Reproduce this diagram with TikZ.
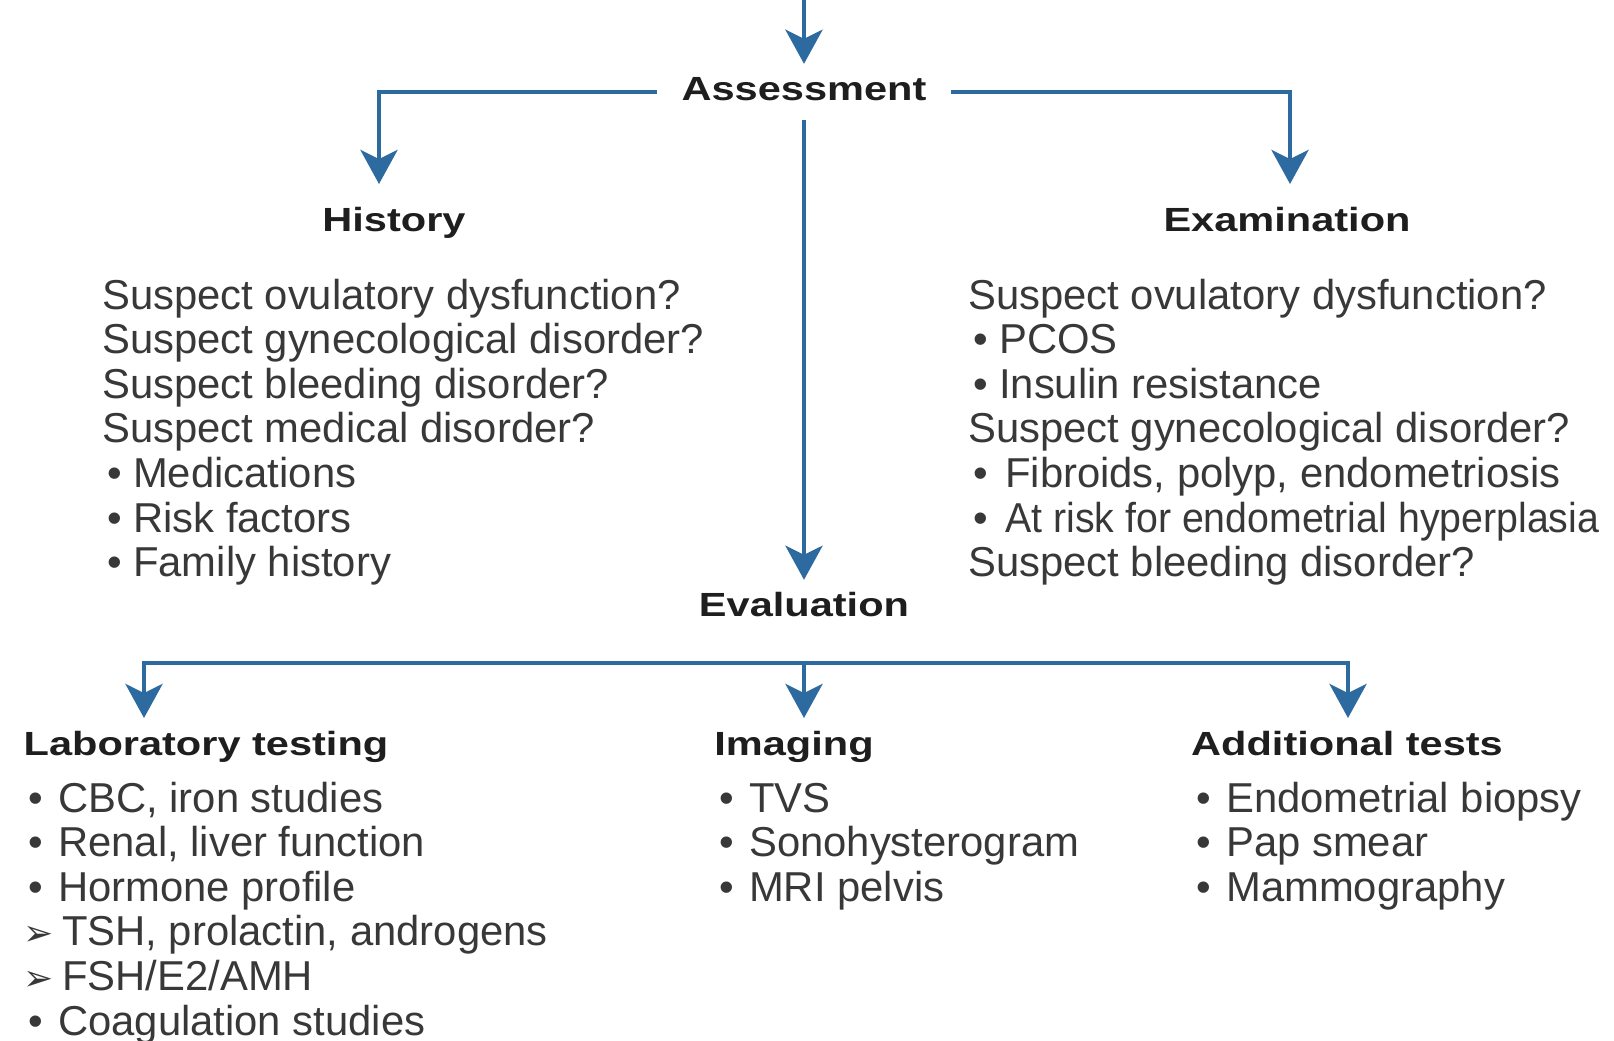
\documentclass[tikz,border=0pt]{standalone}
\usepackage{fontspec}
\setmainfont{Liberation Sans}
\newfontfamily\headfont{Liberation Sans}[FakeStretch=1.24]
\newfontfamily\dingfont{DejaVu Sans}
\usepackage{graphicx}
\usetikzlibrary{arrows.meta}
\definecolor{flowblue}{HTML}{2D6AA0}
\definecolor{txtgray}{HTML}{383838}
\definecolor{headgray}{HTML}{1E1E1E}
\newcommand{\bul}[1]{\hspace*{5pt}\makebox[#1][l]{•}}
\newcommand{\arw}[1]{\makebox[#1][l]{\dingfont\fontsize{36}{36}\selectfont ➢}}

\begin{document}
\begin{tikzpicture}[
  x=1pt, y=-1pt,
  hd/.style={font=\headfont\bfseries\fontsize{33.5}{36}\selectfont, text=headgray, anchor=base,
    inner xsep=24pt, inner ysep=12pt, text height=24pt, text depth=8pt},
  txt/.style={font=\fontsize{41.8}{44.6}\selectfont, text=txtgray, anchor=base west, inner sep=0pt},
  arr/.style={-{Stealth[length=34pt, width=37pt, inset=9pt]}, line width=4.5pt, flowblue}
]
  \useasboundingbox (0,0) rectangle (1614,1041);

  \node[hd] (assess) at (804,100) {Assessment};
  \node[hd] (hist) at (394,231) {History};
  \node[hd] (exam) at (1287,231) {Examination};
  \node[hd] (eval) at (804,616) {Evaluation};
  \node[hd] (lab) at (206,755) {Laboratory testing};
  \node[hd] (img) at (794,755) {Imaging};
  \node[hd] (addl) at (1347,755) {Additional tests};

  \coordinate (topin) at (804,0);
  \coordinate (histtip) at (379,184);
  \coordinate (examtip) at (1290,184);
  \coordinate (busm) at (804,663);
  \coordinate (labtip) at (144,718);
  \coordinate (imgtip) at (804,718);
  \coordinate (addtip) at (1348,718);

  \draw[arr] (topin) -- (assess);
  \draw[arr] (assess.west) -| (histtip);
  \draw[arr] (assess.east) -| (examtip);
  \draw[arr] (assess) -- (eval);
  \draw[arr] (busm) -| (labtip);
  \draw[arr] (busm) -| (addtip);
  \draw[arr] (busm) -- (imgtip);

  \foreach \t [count=\i from 0] in {
    {Suspect ovulatory dysfunction?}, {Suspect gynecological disorder?},
    {Suspect bleeding disorder?}, {Suspect medical disorder?},
    {\bul{26pt}Medications}, {\bul{26pt}Risk factors}, {\bul{26pt}Family history}}
    \node[txt] (histl\i) at (102,{309+44.6*\i}) {\t};

  \foreach \t [count=\i from 0] in {
    {Suspect ovulatory dysfunction?}, {\bul{26pt}PCOS}, {\bul{26pt}Insulin resistance},
    {Suspect gynecological disorder?}, {\bul{32pt}Fibroids, polyp, endometriosis},
    {\bul{32pt}\scalebox{0.94}[1]{At risk for endometrial hyperplasia}},
    {Suspect bleeding disorder?}}
    \node[txt] (examl\i) at (968,{309+44.6*\i}) {\t};

  \foreach \t [count=\i from 0] in {
    {\bul{30pt}CBC, iron studies}, {\bul{30pt}Renal, liver function},
    {\bul{30pt}Hormone profile}, {\arw{39pt}TSH, prolactin, androgens},
    {\arw{39pt}FSH/E2/AMH}, {\bul{30pt}Coagulation studies}}
    \node[txt] (labl\i) at (23,{812+44.6*\i}) {\t};

  \foreach \t [count=\i from 0] in {
    {\bul{30pt}TVS}, {\bul{30pt}Sonohysterogram}, {\bul{30pt}MRI pelvis}}
    \node[txt] (imgl\i) at (714,{812+44.6*\i}) {\t};

  \foreach \t [count=\i from 0] in {
    {\bul{30pt}Endometrial biopsy}, {\bul{30pt}Pap smear}, {\bul{30pt}Mammography}}
    \node[txt] (addl\i) at (1191,{812+44.6*\i}) {\t};
\end{tikzpicture}
\end{document}
